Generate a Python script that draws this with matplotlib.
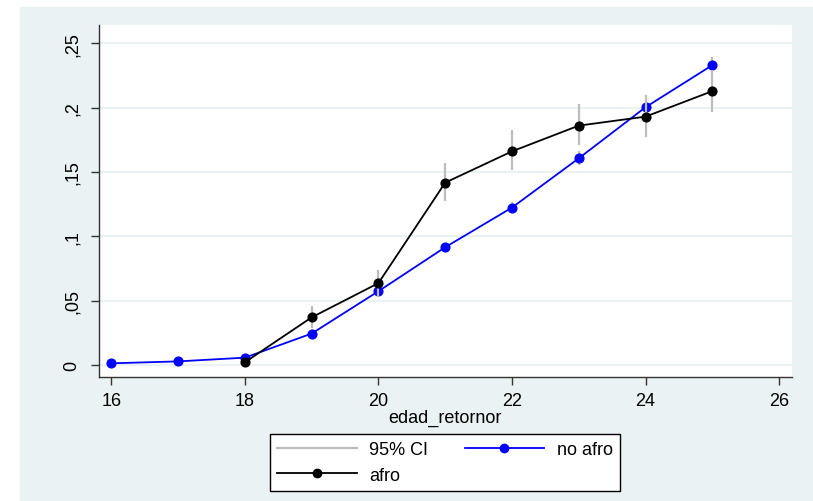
import matplotlib
matplotlib.use("Agg")
import matplotlib.pyplot as plt
from matplotlib.patches import Rectangle
from matplotlib.lines import Line2D
from matplotlib.ticker import FuncFormatter

plt.rcParams["font.family"] = ["Liberation Sans", "DejaVu Sans"]

# share of people returning, by age at return
ages_no_afro = [16, 17, 18, 19, 20, 21, 22, 23, 24, 25]
no_afro = [0.0013, 0.0028, 0.0057, 0.0244, 0.0573, 0.0915, 0.1223, 0.1606, 0.2003, 0.2330]
no_afro_lo = [0.0008, 0.0021, 0.0048, 0.0225, 0.0546, 0.0882, 0.1180, 0.1555, 0.1950, 0.2268]
no_afro_hi = [0.0018, 0.0035, 0.0066, 0.0263, 0.0600, 0.0948, 0.1266, 0.1660, 0.2056, 0.2392]

ages_afro = [18, 19, 20, 21, 22, 23, 24, 25]
afro = [0.0021, 0.0370, 0.0636, 0.1417, 0.1660, 0.1860, 0.1930, 0.2128]
afro_lo = [0.0000, 0.0285, 0.0530, 0.1277, 0.1515, 0.1710, 0.1774, 0.1964]
afro_hi = [0.0050, 0.0456, 0.0741, 0.1567, 0.1826, 0.2028, 0.2098, 0.2295]

x_ticks = [16, 18, 20, 22, 24, 26]
y_ticks = [0, 0.05, 0.10, 0.15, 0.20, 0.25]

BG = "#EAF2F3"
CI_COLOR = "#BDBDBD"
FS = 13

W, H = 813, 502
fig = plt.figure(figsize=(W / 100, H / 100), dpi=100, facecolor="white")
fig.patches.append(Rectangle((20 / W, 0), 1 - 20 / W, (H - 8) / H,
                             transform=fig.transFigure, color=BG, zorder=-10))

left, right, top, bottom = 98.6, 791.8, 26, 377.7
ax = fig.add_axes([left / W, 1 - bottom / H, (right - left) / W, (bottom - top) / H])
ax.set_facecolor("white")

# CI bars go under their own series, afro bars sit over the blue series
ax.vlines(ages_no_afro, no_afro_lo, no_afro_hi, color=CI_COLOR, lw=1.6, zorder=2)
ax.plot(ages_no_afro, no_afro, color="#0000FF", lw=1.3, marker="o", ms=6.3, zorder=3)
ax.vlines(ages_afro, afro_lo, afro_hi, color=CI_COLOR, lw=1.6, zorder=4)
ax.plot(ages_afro, afro, color="black", lw=1.3, marker="o", ms=6.3, zorder=5)

ax.set_xlim(15.81, 26.19)
ax.set_ylim(-0.0091, 0.2642)
ax.set_xticks(x_ticks)
ax.set_yticks(y_ticks)
ax.yaxis.set_major_formatter(FuncFormatter(
    lambda v, p: "0" if abs(v) < 1e-9 else ("%g" % v).replace("0.", ",")))
ax.grid(axis="y", color=BG, lw=1.5, zorder=0)
ax.set_axisbelow(True)

for s in ("top", "right"):
    ax.spines[s].set_visible(False)
for s in ("left", "bottom"):
    ax.spines[s].set_color("#333333")
    ax.spines[s].set_linewidth(1.0)

ax.tick_params(axis="both", direction="out", length=6, width=1.0, color="#333333",
               labelsize=FS, pad=5)
ax.tick_params(axis="y", pad=7)
for lab in ax.get_yticklabels():
    lab.set_rotation(90)
    lab.set_va("center")

ax.set_xlabel("edad_retornor", fontsize=FS, labelpad=0)

handles = [
    Line2D([], [], color=CI_COLOR, lw=1.6),
    Line2D([], [], color="black", lw=1.3, marker="o", ms=6),
    Line2D([], [], color="#0000FF", lw=1.3, marker="o", ms=6),
]
labels = ["95% CI", "afro", "no afro"]
leg = fig.legend(handles, labels, ncol=2, loc="center",
                 bbox_to_anchor=(445 / W, 1 - 463.5 / H), fontsize=FS,
                 frameon=True, fancybox=False, edgecolor="black", facecolor="white",
                 handlelength=4.4, handletextpad=0.7, columnspacing=2.0,
                 labelspacing=0.45, borderpad=0.4)
leg.get_frame().set_linewidth(1.0)
leg.get_frame().set_alpha(1)

fig.savefig("out.png", dpi=100)
